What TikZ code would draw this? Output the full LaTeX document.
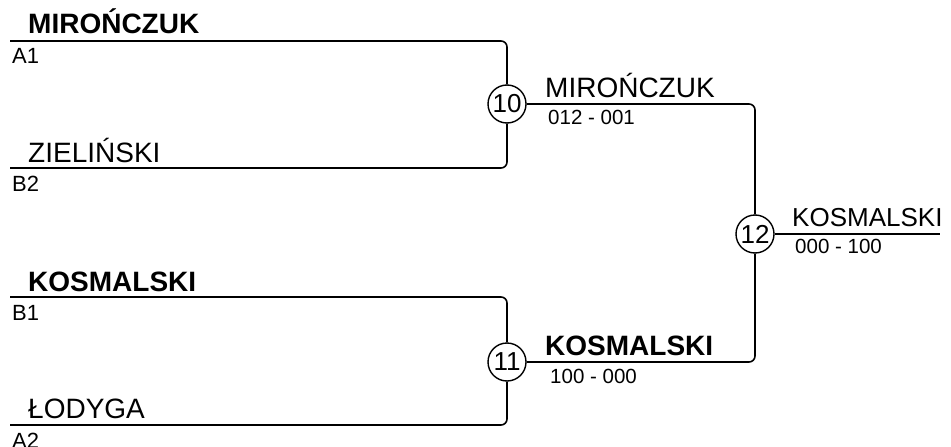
\documentclass[tikz,border=0pt]{standalone}
\usepackage{fontspec}
\setmainfont{Liberation Sans}
\usetikzlibrary{positioning}
\tikzset{
  br name/.style={font=\fontsize{28}{30}\selectfont, inner sep=0pt, anchor=base west},
  br winner/.style={br name, font=\fontsize{28}{30}\selectfont\bfseries},
  br final/.style={br name, font=\fontsize{26}{28}\selectfont},
  br seed/.style={font=\fontsize{22}{24}\selectfont, inner sep=0pt, anchor=north west},
  br score/.style={font=\fontsize{20.5}{22}\selectfont, inner sep=0pt, anchor=north west},
  br line/.style={line width=1.6pt, rounded corners=6pt},
  br match/.style={draw, circle, line width=1.4pt, minimum size=38pt, inner sep=0pt,
    fill=white, font=\fontsize{26}{26}\selectfont}
}

\begin{document}
\begin{tikzpicture}[x=1pt, y=-1pt]
  \useasboundingbox (0,0) rectangle (951,447);
  % matches
  \node[br match] (m10) at (507,104) {10};
  \node[br match] (m11) at (507,362) {11};
  \node[br match] (m12) at (755,234) {12};
  % line ends
  \coordinate (a1) at (10,41);
  \coordinate (b2) at (10,168);
  \coordinate (b1) at (10,297);
  \coordinate (a2) at (10,425);
  \coordinate (fin) at (940,234);
  \draw[br line] (a1) -| (m10);
  \draw[br line] (b2) -| (m10);
  \draw[br line] (b1) -| (m11);
  \draw[br line] (a2) -| (m11);
  \draw[br line] (m10) -| (m12);
  \draw[br line] (m11) -| (m12);
  \draw[br line] (m12) -- (fin);
  % first round
  \node[br winner] (p1) at (28,34) {MIROŃCZUK};
  \node[br seed] (s1) at (12,48) {A1};
  \node[br name] (p2) at (28,162) {ZIELIŃSKI};
  \node[br seed] (s2) at (12,176) {B2};
  \node[br winner] (p3) at (28,291) {KOSMALSKI};
  \node[br seed] (s3) at (12,305) {B1};
  \node[br name] (p4) at (28,418) {ŁODYGA};
  \node[br seed] (s4) at (12,433) {A2};
  % later rounds
  \node[br name] (w10) at (545,97) {MIROŃCZUK};
  \node[br score] (r10) at (548,110) {012 - 001};
  \node[br winner] (w11) at (545,355) {KOSMALSKI};
  \node[br score] (r11) at (550,369) {100 - 000};
  \node[br final] (w12) at (792,226) {KOSMALSKI};
  \node[br score] (r12) at (795,239) {000 - 100};
\end{tikzpicture}
\end{document}
